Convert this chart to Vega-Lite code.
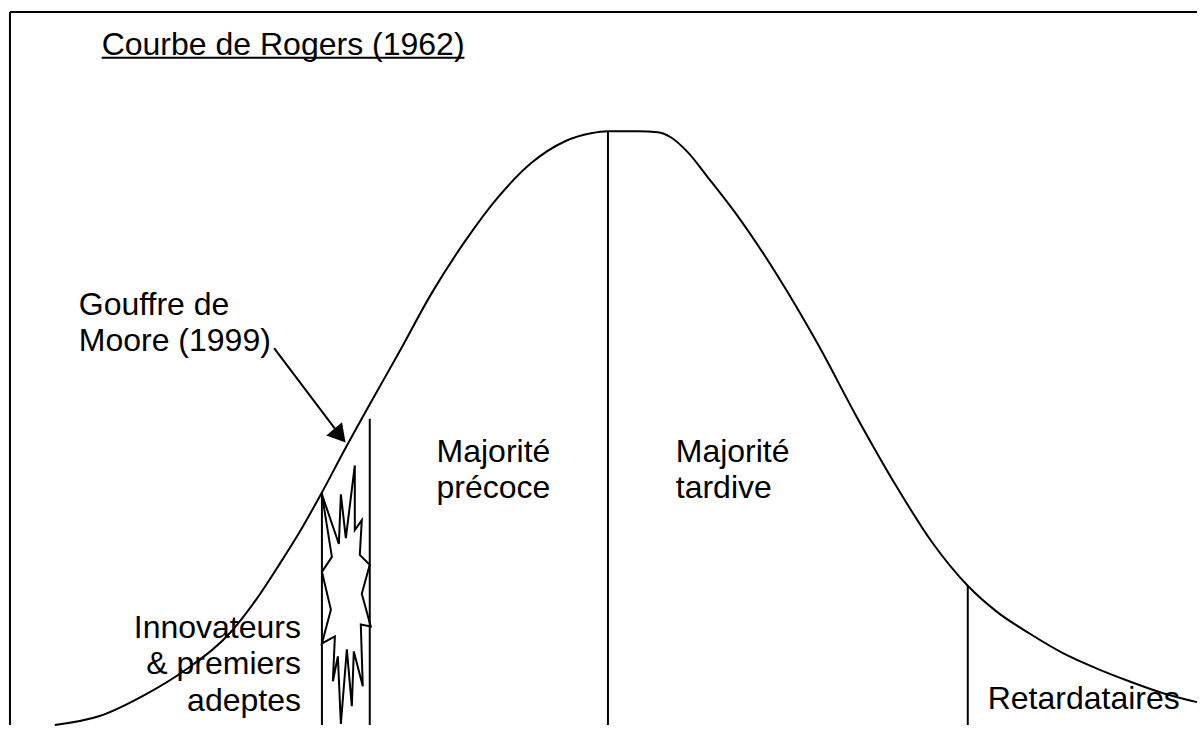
{
  "$schema": "https://vega.github.io/schema/vega-lite/v6.json",
  "width": 1201,
  "height": 729,
  "padding": 0,
  "autosize": {"type": "fit", "contains": "padding"},
  "background": "white",
  "config": {"view": {"stroke": null}},
  "datasets": {
    "curve": [
      {"x": 55, "y": 729}, {"x": 100, "y": 720}, {"x": 143, "y": 700}, {"x": 187, "y": 673},
      {"x": 233, "y": 634}, {"x": 257, "y": 603}, {"x": 280, "y": 568}, {"x": 300, "y": 536},
      {"x": 322, "y": 497}, {"x": 347, "y": 450}, {"x": 373, "y": 403}, {"x": 400, "y": 355},
      {"x": 433, "y": 295}, {"x": 467, "y": 242}, {"x": 500, "y": 198}, {"x": 533, "y": 164},
      {"x": 567, "y": 142}, {"x": 593, "y": 134}, {"x": 610, "y": 132}, {"x": 640, "y": 132},
      {"x": 660, "y": 133}, {"x": 673, "y": 138}, {"x": 690, "y": 153}, {"x": 710, "y": 178},
      {"x": 740, "y": 217}, {"x": 780, "y": 277}, {"x": 820, "y": 345}, {"x": 860, "y": 420},
      {"x": 900, "y": 490}, {"x": 935, "y": 545}, {"x": 971, "y": 589}, {"x": 1000, "y": 615},
      {"x": 1033, "y": 637}, {"x": 1067, "y": 657}, {"x": 1100, "y": 672}, {"x": 1133, "y": 685},
      {"x": 1167, "y": 697}, {"x": 1201, "y": 706}
    ],
    "rules": [
      {"x": 10, "x2": 1201, "y": 12, "y2": 12},
      {"x": 10, "x2": 10, "y": 12, "y2": 729},
      {"x": 323, "x2": 323, "y": 495, "y2": 729},
      {"x": 371, "x2": 371, "y": 421, "y2": 729},
      {"x": 610, "x2": 610, "y": 132, "y2": 729},
      {"x": 971, "x2": 971, "y": 589, "y2": 729},
      {"x": 102, "x2": 466, "y": 58, "y2": 58},
      {"x": 275, "x2": 336, "y": 350, "y2": 431}
    ],
    "burst": [
      {"o": 1, "x": 323, "y": 497}, {"o": 2, "x": 340, "y": 547}, {"o": 3, "x": 342, "y": 497},
      {"o": 4, "x": 347, "y": 541}, {"o": 5, "x": 356, "y": 468}, {"o": 6, "x": 356, "y": 533},
      {"o": 7, "x": 363, "y": 523}, {"o": 8, "x": 361, "y": 558}, {"o": 9, "x": 371, "y": 568},
      {"o": 10, "x": 363, "y": 597}, {"o": 11, "x": 372, "y": 630}, {"o": 12, "x": 362, "y": 628},
      {"o": 13, "x": 364, "y": 690}, {"o": 14, "x": 355, "y": 655}, {"o": 15, "x": 353, "y": 710},
      {"o": 16, "x": 348, "y": 653}, {"o": 17, "x": 342, "y": 728}, {"o": 18, "x": 339, "y": 660},
      {"o": 19, "x": 334, "y": 685}, {"o": 20, "x": 336, "y": 640}, {"o": 21, "x": 323, "y": 647},
      {"o": 22, "x": 332, "y": 613}, {"o": 23, "x": 323, "y": 575}, {"o": 24, "x": 333, "y": 560},
      {"o": 25, "x": 323, "y": 497}
    ],
    "arrowhead": [{"x": 341, "y": 438, "angle": 140}],
    "textLeft": [
      {"label": "Courbe de Rogers (1962)", "x": 102, "y": 55},
      {"label": "Gouffre de", "x": 79, "y": 317},
      {"label": "Moore (1999)", "x": 79, "y": 353},
      {"label": "Majorité", "x": 438, "y": 465},
      {"label": "précoce", "x": 438, "y": 501},
      {"label": "Majorité", "x": 678, "y": 465},
      {"label": "tardive", "x": 678, "y": 501},
      {"label": "Retardataires", "x": 991, "y": 713}
    ],
    "textRight": [
      {"label": "Innovateurs", "x": 302, "y": 642},
      {"label": "& premiers", "x": 302, "y": 678},
      {"label": "adeptes", "x": 302, "y": 715}
    ]
  },
  "layer": [
    {
      "data": {"name": "curve"},
      "mark": {"type": "line", "color": "black", "strokeWidth": 2, "interpolate": "monotone"},
      "encoding": {
        "x": {"field": "x", "type": "quantitative", "scale": {"domain": [0, 1201], "nice": false, "zero": false}, "axis": null},
        "y": {"field": "y", "type": "quantitative", "scale": {"domain": [0, 729], "reverse": true, "nice": false, "zero": false}, "axis": null}
      }
    },
    {
      "data": {"name": "burst"},
      "mark": {"type": "line", "color": "black", "strokeWidth": 2, "strokeJoin": "miter"},
      "encoding": {
        "x": {"field": "x", "type": "quantitative"},
        "y": {"field": "y", "type": "quantitative"},
        "order": {"field": "o", "type": "quantitative"}
      }
    },
    {
      "data": {"name": "rules"},
      "mark": {"type": "rule", "color": "black", "strokeWidth": 2},
      "encoding": {
        "x": {"field": "x", "type": "quantitative"},
        "x2": {"field": "x2"},
        "y": {"field": "y", "type": "quantitative"},
        "y2": {"field": "y2"}
      }
    },
    {
      "data": {"name": "arrowhead"},
      "mark": {"type": "point", "shape": "triangle-up", "filled": true, "color": "black", "size": 420, "opacity": 1},
      "encoding": {
        "x": {"field": "x", "type": "quantitative"},
        "y": {"field": "y", "type": "quantitative"},
        "angle": {"field": "angle", "type": "quantitative", "scale": null}
      }
    },
    {
      "data": {"name": "textLeft"},
      "mark": {"type": "text", "align": "left", "baseline": "alphabetic", "font": "Liberation Sans", "fontSize": 32, "color": "black"},
      "encoding": {
        "x": {"field": "x", "type": "quantitative"},
        "y": {"field": "y", "type": "quantitative"},
        "text": {"field": "label"}
      }
    },
    {
      "data": {"name": "textRight"},
      "mark": {"type": "text", "align": "right", "baseline": "alphabetic", "font": "Liberation Sans", "fontSize": 32, "color": "black"},
      "encoding": {
        "x": {"field": "x", "type": "quantitative"},
        "y": {"field": "y", "type": "quantitative"},
        "text": {"field": "label"}
      }
    }
  ]
}
